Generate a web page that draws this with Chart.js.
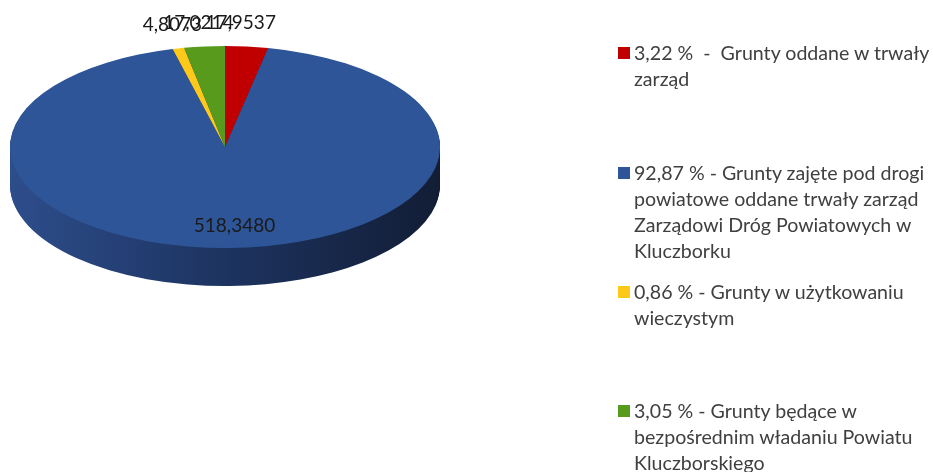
<!DOCTYPE html>
<html>
<head>
<meta charset="utf-8">
<script src="https://cdn.jsdelivr.net/npm/chart.js@4"></script>
<style>
    body { margin: 0; background: #fff; width: 933px; height: 472px; overflow: hidden; position: relative; font-family: Lato, "Open Sans", sans-serif; }
    #wrap { position: absolute; left: 0; top: 0; width: 933px; height: 472px; }
    #legend { position: absolute; left: 618px; top: 0; width: 315px; color: #404040; font-size: 19.6px; }
    .item { position: absolute; left: 0; line-height: 26px; padding-left: 16px; white-space: pre; }
    .item .box { position: absolute; left: 0; top: 7px; width: 12px; height: 12px; }
</style>
</head>
<body>
<div id="wrap"><canvas id="pie"></canvas></div>
<div id="legend"></div>

<script>
// data (order as drawn clockwise from the top)
const categories = [
    'Grunty oddane w trwały zarząd',
    'Grunty zajęte pod drogi powiatowe oddane trwały zarząd Zarządowi Dróg Powiatowych w Kluczborku',
    'Grunty w użytkowaniu wieczystym',
    'Grunty będące w bezpośrednim władaniu Powiatu Kluczborskiego'
];
const areaValues = [17.9537, 518.3480, 4.8073, 17.0214];
const percentLabels = ['3,22 %', '92,87 %', '0,86 %', '3,05 %'];
const legendLines = [
    ['3,22 %  -  Grunty oddane w trwały', 'zarząd'],
    ['92,87 % - Grunty zajęte pod drogi', 'powiatowe oddane trwały zarząd', 'Zarządowi Dróg Powiatowych w', 'Kluczborku'],
    ['0,86 % - Grunty w użytkowaniu', 'wieczystym'],
    ['3,05 % - Grunty będące w', 'bezpośrednim władaniu Powiatu', 'Kluczborskiego']
];
const sliceColors = ['#C00000', '#2E5597', '#FFC91A', '#579A1C'];

// 3d look
const PIE_X = 225, PIE_Y = 147, TILT = 101 / 215, DEPTH = 38;
const legendTops = [40, 160, 279, 398];

// squash the pie into an ellipse and give it a side
const tiltPlugin = {
    id: 'tilt',
    beforeDatasetsDraw(chart) {
        const ctx = chart.ctx;
        const arcs = chart.getDatasetMeta(0).data;
        const a = arcs[0];
        const r = a.outerRadius;
        const grad = ctx.createLinearGradient(a.x - r, 0, a.x + r, 0);
        grad.addColorStop(0, '#2D4D8B');
        grad.addColorStop(0.5, '#1D3360');
        grad.addColorStop(1, '#121D35');
        for (let d = DEPTH; d > 0; d--) {
            ctx.save();
            ctx.translate(PIE_X, PIE_Y + d);
            ctx.scale(1, TILT);
            ctx.translate(-a.x, -a.y);
            arcs.forEach(arc => {
                const saved = arc.options.backgroundColor;
                arc.options.backgroundColor = grad;
                arc.draw(ctx);
                arc.options.backgroundColor = saved;
            });
            ctx.restore();
        }
        ctx.save();
        ctx.translate(PIE_X, PIE_Y);
        ctx.scale(1, TILT);
        ctx.translate(-a.x, -a.y);
    },
    afterDatasetsDraw(chart) {
        const ctx = chart.ctx;
        ctx.restore();

        // value labels
        const arcs = chart.getDatasetMeta(0).data;
        ctx.save();
        ctx.font = '19px Lato, sans-serif';
        ctx.fillStyle = '#1A1A1A';
        ctx.textAlign = 'center';
        ctx.textBaseline = 'middle';
        arcs.forEach((arc, i) => {
            const mid = (arc.startAngle + arc.endAngle) / 2;
            const txt = areaValues[i].toFixed(4).replace('.', ',');
            let x, y;
            if (i === 1) {
                x = PIE_X + Math.cos(mid) * arc.outerRadius * 0.75 + 6;
                y = PIE_Y + Math.sin(mid) * arc.outerRadius * TILT * 0.78;
            } else {
                x = PIE_X + Math.cos(mid) * arc.outerRadius - 6;
                y = PIE_Y + Math.sin(mid) * arc.outerRadius * TILT - 24;
            }
            ctx.fillText(txt, x, y);
        });
        ctx.restore();
    }
};

const ctx = document.getElementById('pie').getContext('2d');
const pieChart = new Chart(ctx, {
    type: 'pie',
    data: {
        labels: categories,
        datasets: [{
            data: areaValues,
            backgroundColor: sliceColors,
            borderWidth: 0,
            clip: false
        }]
    },
    options: {
        responsive: true,
        maintainAspectRatio: false,
        animation: false,
        layout: { padding: { left: 10, right: 493, top: 21, bottom: 21 } },
        plugins: {
            legend: { display: false },
            tooltip: { enabled: false }
        }
    },
    plugins: [tiltPlugin]
});

// legend
const legend = document.getElementById('legend');
legendLines.forEach((lines, i) => {
    const item = document.createElement('div');
    item.className = 'item';
    item.style.top = legendTops[i] + 'px';
    item.innerHTML = '<span class="box" style="background:' + sliceColors[i] + '"></span>' + lines.join('<br>');
    legend.appendChild(item);
});
</script>
</body>
</html>
